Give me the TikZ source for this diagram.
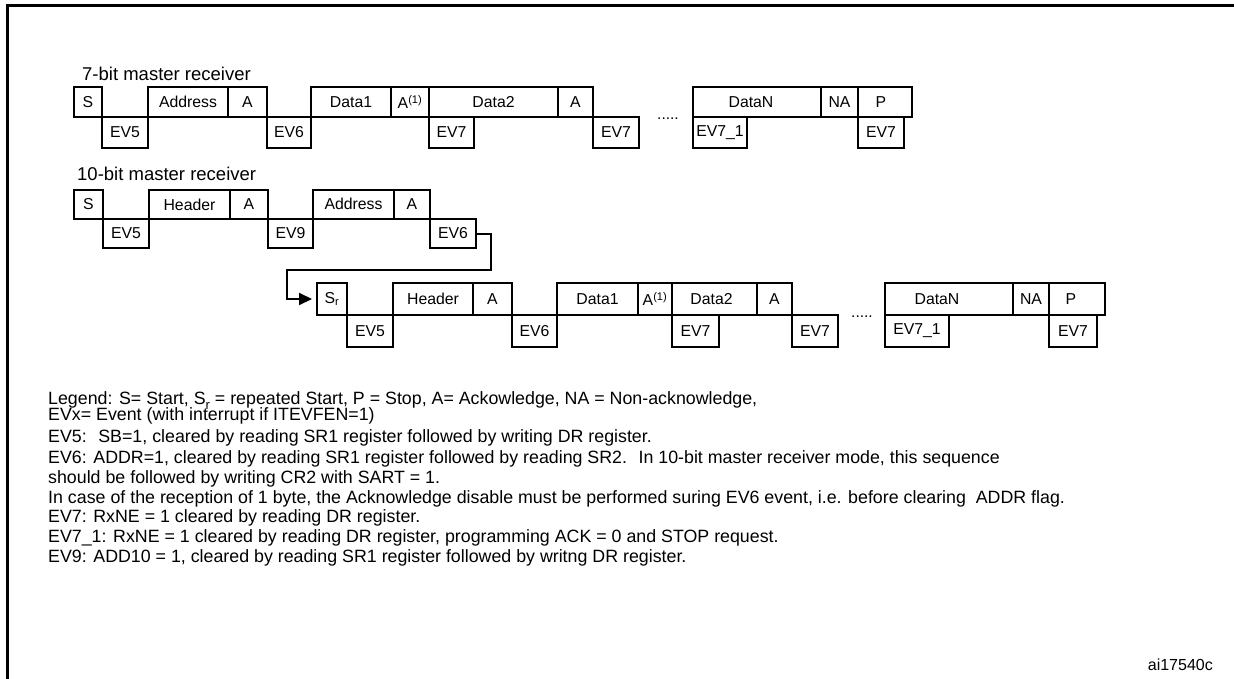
\documentclass[tikz,border=0pt]{standalone}
\usepackage{fontspec}
\setmainfont{Liberation Sans}
\usetikzlibrary{arrows.meta}
\newcommand\cellbox[6]{\node[cell, minimum width={#3-#2}, minimum height={#5-#4}] (#1) at (#2,#4) {#6};}
\begin{document}
\begin{tikzpicture}[x=1pt,y=-1pt,
  cell/.style={draw, line width=2pt, inner sep=0pt, outer sep=0pt, anchor=north west,
    font=\fontsize{15.8}{18}\selectfont},
  heading/.style={anchor=base west, inner sep=0pt, font=\fontsize{18.5}{21}\selectfont},
  legendline/.style={anchor=base west, inner sep=0pt, font=\fontsize{17.8}{20}\selectfont},
  dotsnode/.style={inner sep=0pt, font=\fontsize{15.5}{18}\selectfont},
  frameline/.style={line width=3pt, line join=miter},
  link/.style={line width=2pt, line join=miter, -{Triangle[length=13pt,width=12pt]}, shorten >=5pt}]
\useasboundingbox (0,0) rectangle (1234,678);
\fill[white] (0,0) rectangle (1234,678);
\draw[frameline] (7.5,690) -- (7.5,5.7) -- (1245,5.7);

% 7-bit master receiver
\node[heading] (t7) at (82,80) {7-bit master receiver};
\cellbox{aS}{74}{102}{87}{117}{S}
\cellbox{aEVa}{102}{148}{117}{148}{EV5}
\cellbox{aAddr}{148}{228}{87}{117}{Address}
\cellbox{aA}{228}{267}{87}{117}{A}
\cellbox{aEVb}{267}{311}{117}{148}{EV6}
\cellbox{aD1}{311}{391}{87}{117}{Data1}
\cellbox{aA1}{391}{429}{87}{117}{A\textsuperscript{(1)}}
\cellbox{aD2}{429}{558}{87}{117}{Data2}
\cellbox{aEVc}{429}{474}{117}{148}{EV7}
\cellbox{aAb}{558}{593}{87}{117}{A}
\cellbox{aEVd}{593}{639}{117}{148}{EV7}
\node[dotsnode] (adots) at (668,119) {.....};
\cellbox{aDN}{693}{821}{87}{117}{\hspace*{-12pt}DataN}
\cellbox{aEVe}{693}{747}{117}{148}{EV7\_1}
\cellbox{aNA}{821}{858}{87}{117}{NA}
\cellbox{aP}{858}{912}{87}{117}{\hspace*{-8pt}P}
\cellbox{aEVf}{858}{904}{117}{148}{EV7}

% 10-bit master receiver
\node[heading] (t10) at (77,180) {10-bit master receiver};
\cellbox{bS}{74}{103}{190}{219}{S}
\cellbox{bEVa}{103}{149}{219}{248}{EV5}
\cellbox{bH}{149}{230}{190}{219}{Header}
\cellbox{bA}{230}{268}{190}{219}{A}
\cellbox{bEVb}{268}{313}{219}{248}{EV9}
\cellbox{bAddr}{313}{394}{190}{219}{\raisebox{2pt}{Address}}
\cellbox{bAb}{394}{430}{190}{219}{A}
\cellbox{bEVc}{430}{476}{219}{248}{EV6}

\cellbox{cS}{317}{347}{283}{315}{S\textsubscript{r}}
\cellbox{cEVa}{347}{393}{315}{347}{EV5}
\cellbox{cH}{393}{473}{283}{315}{Header}
\cellbox{cA}{473}{512}{283}{315}{A}
\cellbox{cEVb}{512}{557}{315}{347}{EV6}
\cellbox{cD1}{557}{638}{283}{315}{Data1}
\cellbox{cA1}{638}{672}{283}{315}{A\textsuperscript{(1)}}
\cellbox{cD2}{672}{757}{283}{315}{\hspace*{-6pt}Data2}
\cellbox{cEVc}{672}{719}{315}{347}{EV7}
\cellbox{cAb}{757}{792}{283}{315}{A}
\cellbox{cEVd}{792}{838}{315}{347}{EV7}
\node[dotsnode] (cdots) at (862,317) {.....};
\cellbox{cDN}{885}{1013}{283}{315}{\hspace*{-24pt}DataN}
\cellbox{cEVe}{885}{949}{315}{347}{EV7\_1}
\cellbox{cNA}{1013}{1049}{283}{315}{NA}
\cellbox{cP}{1049}{1105}{283}{315}{\hspace*{-12pt}P}
\cellbox{cEVf}{1049}{1097}{315}{347}{EV7}

\coordinate (k1) at (491,270);
\coordinate (k2) at (287,270);
\draw[link] (bEVc.east) -| (k1) -- (k2) |- (cS.west);

% legend
\node[legendline] (l1) at (48,404) {Legend: S= Start, S\raisebox{-5pt}{\fontsize{13}{13}\selectfont r} = repeated Start, P = Stop, A= Ackowledge, NA = Non-acknowledge,};
\node[legendline] (l2) at (48,420) {EVx= Event (with interrupt if ITEVFEN=1)};
\node[legendline] (l3) at (48,442) {EV5:~ SB=1, cleared by reading SR1 register followed by writing DR register.};
\node[legendline] (l4) at (48,463) {EV6: ADDR=1, cleared by reading SR1 register followed by reading SR2.~ In 10-bit master receiver mode, this sequence};
\node[legendline] (l5) at (48,483) {should be followed by writing CR2 with SART = 1.};
\node[legendline] (l6) at (48,503) {In case of the reception of 1 byte, the Acknowledge disable must be performed suring EV6 event, i.e. before clearing~ ADDR flag.};
\node[legendline] (l7) at (48,522) {EV7: RxNE = 1 cleared by reading DR register.};
\node[legendline] (l8) at (48,542) {EV7\_1: RxNE = 1 cleared by reading DR register, programming ACK = 0 and STOP request.};
\node[legendline] (l9) at (48,562) {EV9: ADD10 = 1, cleared by reading SR1 register followed by writng DR register.};
\node[anchor=base east, inner sep=0pt, font=\fontsize{16}{18}\selectfont] (fig) at (1213,670) {ai17540c};
\end{tikzpicture}
\end{document}
